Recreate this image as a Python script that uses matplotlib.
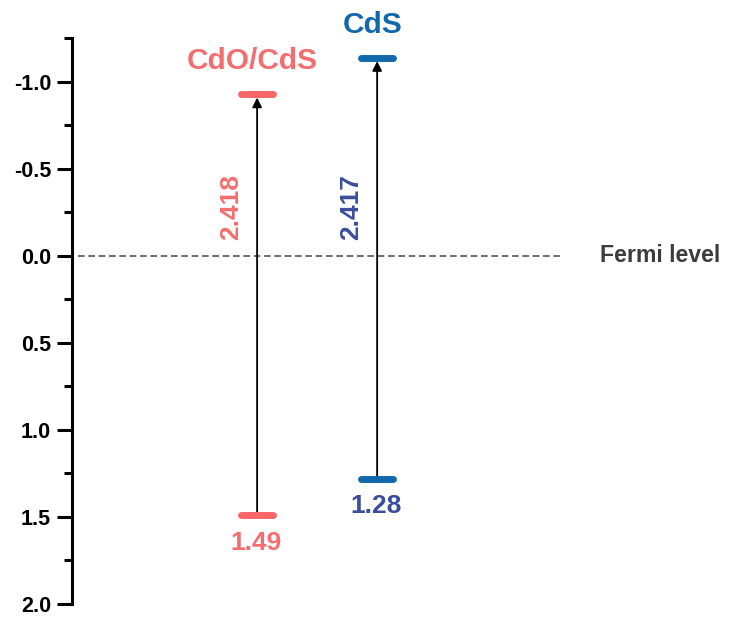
import matplotlib.pyplot as plt

plt.rcParams['font.family'] = ['Liberation Sans', 'DejaVu Sans']
plt.rcParams['font.weight'] = 'bold'

# Band edges (eV vs Fermi level, downward positive)
samples = ["CdO/CdS", "CdS"]
x_pos = [1, 2]
band_gaps = [2.418, 2.417]
vb_edges = [1.49, 1.28]
cb_edges = [vb - eg for vb, eg in zip(vb_edges, band_gaps)]

edge_colors = ["#F8666A", "#1169AC"]
name_colors = ["#F46E70", "#1169AC"]
value_colors = ["#F46E70", "#3A4E9C"]

fig = plt.figure(figsize=(7.35, 6.17), dpi=100)
ax = fig.add_axes([72 / 735, 1 - 604 / 617, (562 - 72) / 735, (604 - 38) / 617])

ax.set_xlim(-0.542, 3.54)
ax.set_ylim(2.0, -1.25)

# Fermi level
ax.plot([-0.49, 3.54], [0, 0], ls=(0, (4, 2.2)), color="#555555", lw=1.2)
ax.text(3.86, 0, "Fermi level", ha="left", va="center", fontsize=16.7,
        color="#3C3C3C", clip_on=False)

half_w = 0.135
for x, name, cb, vb, eg, ec, nc, vc in zip(x_pos, samples, cb_edges, vb_edges,
                                          band_gaps, edge_colors, name_colors,
                                          value_colors):
    # arrow from valence to conduction band edge
    ax.annotate("", xy=(x, cb + 0.02), xytext=(x, vb),
                arrowprops=dict(arrowstyle="-|>", color="black", lw=1.3,
                                mutation_scale=14, shrinkA=0, shrinkB=0))
    for level in (cb, vb):
        ax.plot([x - half_w, x + half_w], [level, level], color=ec, lw=5,
                solid_capstyle="round", zorder=3)
    ax.text(x - 0.04, cb - 0.19, name, ha="center", va="center", fontsize=21.5,
            color=nc, clip_on=False)
    ax.text(x - 0.01, vb + 0.16, f"{vb:.2f}", ha="center", va="center",
            fontsize=19, color=vc)
    ax.text(x - 0.22, -0.28, f"{eg:.3f}", ha="center", va="center",
            rotation=90, fontsize=19, color=vc)

ax.set_yticks([-1.0, -0.5, 0.0, 0.5, 1.0, 1.5, 2.0])
ax.set_yticklabels(["-1.0", "-0.5", "0.0", "0.5", "1.0", "1.5", "2.0"])
ax.set_yticks([-1.25, -0.75, -0.25, 0.25, 0.75, 1.25, 1.75], minor=True)
ax.tick_params(axis="y", which="major", length=11, width=2.2, labelsize=15.5,
               pad=4)
ax.tick_params(axis="y", which="minor", length=5.5, width=2.2)
ax.set_xticks([])

for side in ("top", "right", "bottom"):
    ax.spines[side].set_visible(False)
ax.spines["left"].set_linewidth(2.2)

fig.savefig("out.png", dpi=100)
